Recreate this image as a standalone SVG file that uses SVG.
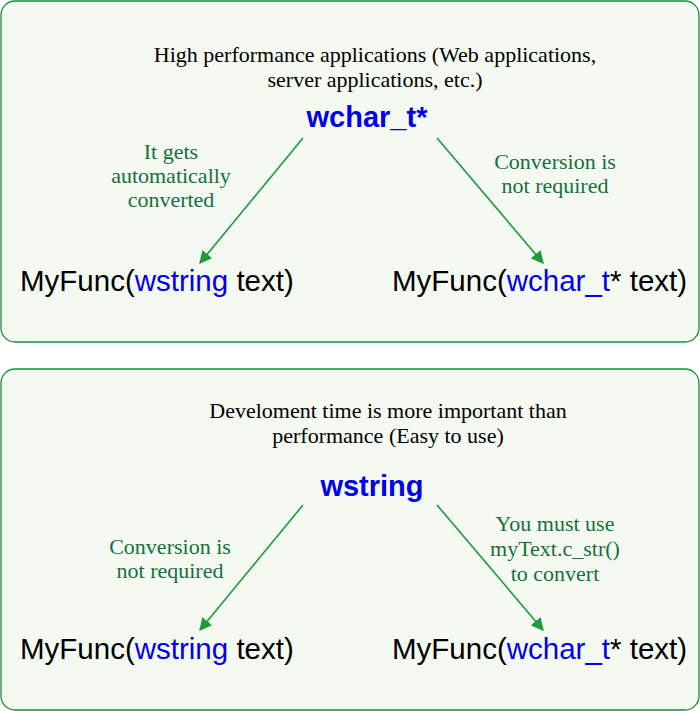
<svg xmlns="http://www.w3.org/2000/svg" width="700" height="711" viewBox="0 0 700 711">
<style>
.box{fill:#f4faf1;stroke:#1f8a3a;stroke-width:1.3}
.note{font-family:"Liberation Serif",serif;font-size:22px;fill:#000;text-anchor:middle}
.lbl{font-family:"Liberation Serif",serif;font-size:22px;fill:#17703a;text-anchor:middle}
.key{font-family:"Liberation Sans",sans-serif;font-size:29px;font-weight:bold;fill:#0000ee;text-anchor:middle}
.fn{font-family:"Liberation Sans",sans-serif;font-size:29.5px;fill:#000}
.b{fill:#0000ee}
.c{stroke:#1f9a3a;stroke-width:1.6;fill:none;marker-end:url(#ah)}
</style>
<defs><marker id="ah" viewBox="0 0 10 10" refX="9" refY="5" markerWidth="8" markerHeight="8" orient="auto"><path d="M0,0 L10,5 L0,10 z" fill="#1f9a3a"/></marker></defs>
<g id="top">
<rect class="box" x="1" y="1" width="698" height="341" rx="14"/>
<text class="note" x="375" y="62">High performance applications (Web applications,</text>
<text class="note" x="375" y="87">server applications, etc.)</text>
<text class="key" x="367" y="127">wchar_t*</text>
<text class="lbl" x="171" y="159">It gets</text>
<text class="lbl" x="171" y="183">automatically</text>
<text class="lbl" x="171" y="207">converted</text>
<text class="lbl" x="555" y="169">Conversion is</text>
<text class="lbl" x="555" y="193">not required</text>
<text class="fn" x="20" y="291">MyFunc(<tspan class="b">wstring</tspan> text)</text>
<text class="fn" x="392" y="291">MyFunc(<tspan class="b">wchar_t</tspan>* text)</text>
</g>
<g id="bottom">
<rect class="box" x="1" y="369" width="698" height="341" rx="14"/>
<text class="note" x="388" y="418">Develoment time is more important than</text>
<text class="note" x="388" y="443">performance (Easy to use)</text>
<text class="key" x="372" y="496">wstring</text>
<text class="lbl" x="170" y="554">Conversion is</text>
<text class="lbl" x="170" y="578">not required</text>
<text class="lbl" x="555" y="531">You must use</text>
<text class="lbl" x="555" y="556">myText.c_str()</text>
<text class="lbl" x="555" y="581">to convert</text>
<text class="fn" x="20" y="659">MyFunc(<tspan class="b">wstring</tspan> text)</text>
<text class="fn" x="392" y="659">MyFunc(<tspan class="b">wchar_t</tspan>* text)</text>
</g>
<g id="connectors">
<line class="c" x1="303" y1="138" x2="200" y2="263"/>
<line class="c" x1="437" y1="138" x2="543" y2="263"/>
<line class="c" x1="303" y1="505" x2="200" y2="630"/>
<line class="c" x1="437" y1="505" x2="543" y2="630"/>
</g>
</svg>
